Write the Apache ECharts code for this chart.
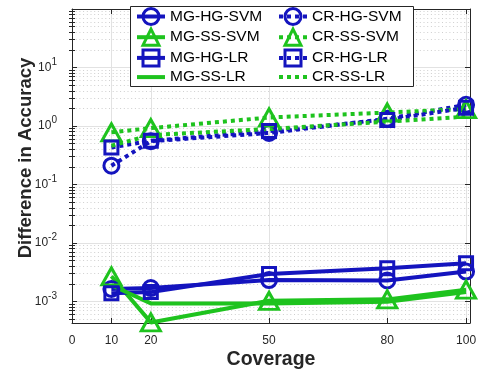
<!DOCTYPE html>
<html>
<head>
<meta charset="utf-8">
<script src="https://cdn.jsdelivr.net/npm/echarts@6/dist/echarts.min.js"></script>
<style>
  html, body { margin: 0; padding: 0; background: #ffffff; }
  #chart { width: 480px; height: 375px; }
</style>
</head>
<body>
<div id="chart"></div>
<script>
// Coverage levels (x) and the accuracy differences per method (log y)
const coverage = [10, 20, 50, 80, 100];

const mgHgSvm = [1.64e-3, 1.70e-3, 2.33e-3, 2.30e-3, 3.25e-3];
const mgSsSvm = [2.70e-3, 4.4e-4, 1.03e-3, 1.09e-3, 1.60e-3];
const mgHgLr  = [1.38e-3, 1.45e-3, 2.95e-3, 3.70e-3, 4.50e-3];
const mgSsLr  = [1.90e-3, 0.93e-3, 0.93e-3, 0.99e-3, 1.45e-3];
const crHgSvm = [0.21, 0.55, 0.76, 1.33, 2.30];
const crSsSvm = [0.78, 0.92, 1.40, 1.70, 1.95];
const crHgLr  = [0.43, 0.56, 0.82, 1.27, 2.05];
const crSsLr  = [0.46, 0.70, 0.89, 1.19, 1.45];

const xTicks = [0, 10, 20, 50, 80, 100];
const yMajorTicks = [1e-3, 1e-2, 1e-1, 1, 10];

const X_MIN = 0, X_MAX = 101;
const Y_MIN = 4.3e-4, Y_MAX = 100;

// minor ticks at 2..9 x 10^k inside the y range
const yMinorTicks = [];
for (let k = -4; k <= 1; k++) {
  for (let m = 2; m <= 9; m++) {
    const v = Number((m * Math.pow(10, k)).toPrecision(3));
    if (v > Y_MIN && v < Y_MAX) yMinorTicks.push(v);
  }
}

const BLUE = '#1414BE';
const GREEN = '#1EC31E';
const AXIS = '#262626';
const FONT = 'Liberation Sans, Arial, Helvetica, sans-serif';
const CLEAR = 'rgba(255,255,255,0)';

function pairs(values) {
  return coverage.map((c, i) => [c, values[i]]);
}

function makeSeries(name, values, color, symbol, dotted) {
  const size = symbol === 'circle' ? 15 : symbol === 'triangle' ? [19, 17] : 13;
  const hasMarker = symbol !== 'none';
  return {
    name: name,
    type: 'line',
    xAxisIndex: 0,
    yAxisIndex: 0,
    data: pairs(values),
    symbol: symbol,
    symbolSize: size,
    showSymbol: hasMarker,
    clip: false,
    lineStyle: {
      color: color,
      width: 4,
      type: dotted ? [4, 4] : 'solid',
      cap: 'butt'
    },
    itemStyle: {
      color: CLEAR,
      borderColor: hasMarker ? color : CLEAR,
      borderWidth: hasMarker ? 3 : 0
    },
    emphasis: { disabled: true }
  };
}

const seriesList = [
  makeSeries('MG-HG-SVM', mgHgSvm, BLUE, 'circle', false),
  makeSeries('MG-SS-SVM', mgSsSvm, GREEN, 'triangle', false),
  makeSeries('MG-HG-LR', mgHgLr, BLUE, 'rect', false),
  makeSeries('MG-SS-LR', mgSsLr, GREEN, 'none', false),
  makeSeries('CR-HG-SVM', crHgSvm, BLUE, 'circle', true),
  makeSeries('CR-SS-SVM', crSsSvm, GREEN, 'triangle', true),
  makeSeries('CR-HG-LR', crHgLr, BLUE, 'rect', true),
  makeSeries('CR-SS-LR', crSsLr, GREEN, 'none', true)
];

const tickLine = { color: AXIS, width: 1 };

function logAxis(extra) {
  return Object.assign({
    type: 'log',
    logBase: 10,
    min: Y_MIN,
    max: Y_MAX,
    gridIndex: 0
  }, extra);
}

// legend entries: line-only series get an invisible marker
function legendItems(names) {
  return names.map(n => {
    const s = seriesList.find(x => x.name === n);
    if (s.symbol === 'none') {
      return { name: n, itemStyle: { color: CLEAR, borderColor: CLEAR, borderWidth: 0 } };
    }
    return { name: n, itemStyle: { borderWidth: 3 } };
  });
}

const legendCommon = {
  orient: 'vertical',
  top: 7,
  padding: 0,
  itemWidth: 28,
  itemHeight: 20,
  itemGap: 1.7,
  z: 20,
  selectedMode: false,
  lineStyle: { width: 4 },
  textStyle: { fontSize: 15.5, color: '#000000', fontFamily: FONT }
};

const option = {
  animation: false,
  backgroundColor: '#ffffff',
  grid: { left: 72, right: 10, top: 9, bottom: 52 },
  graphic: [{
    type: 'rect',
    z: 15,
    shape: { x: 130.5, y: 6.5, width: 283, height: 80 },
    style: { fill: '#ffffff', stroke: AXIS, lineWidth: 1 }
  }],
  legend: [
    Object.assign({ left: 135, data: legendItems(['MG-HG-SVM', 'MG-SS-SVM', 'MG-HG-LR', 'MG-SS-LR']) }, legendCommon),
    Object.assign({ left: 277, data: legendItems(['CR-HG-SVM', 'CR-SS-SVM', 'CR-HG-LR', 'CR-SS-LR']) }, legendCommon)
  ],
  xAxis: [
    {
      type: 'value',
      min: X_MIN,
      max: X_MAX,
      position: 'bottom',
      axisLine: { show: true, onZero: false, lineStyle: tickLine },
      axisTick: { show: true, inside: true, length: 5, customValues: xTicks, lineStyle: tickLine },
      axisLabel: { customValues: xTicks, margin: 12, fontSize: 12, color: AXIS, fontFamily: FONT },
      splitLine: { show: true, lineStyle: { color: '#e2e2e2', width: 1 } },
      name: 'Coverage',
      nameLocation: 'middle',
      nameGap: 27,
      nameMoveOverlap: false,
      nameTextStyle: { fontSize: 19.5, fontWeight: 'bold', color: AXIS, fontFamily: FONT }
    },
    {
      type: 'value',
      min: X_MIN,
      max: X_MAX,
      position: 'top',
      axisLine: { show: true, onZero: false, lineStyle: tickLine },
      axisTick: { show: true, inside: true, length: 5, customValues: xTicks, lineStyle: tickLine },
      axisLabel: { show: false },
      splitLine: { show: false }
    }
  ],
  yAxis: [
    logAxis({
      position: 'left',
      axisLine: { show: true, onZero: false, lineStyle: tickLine },
      axisTick: { show: true, inside: true, length: 5, customValues: yMajorTicks, lineStyle: tickLine },
      axisLabel: {
        customValues: yMajorTicks,
        margin: 15,
        fontSize: 12,
        color: AXIS,
        fontFamily: FONT,
        formatter: function (v) {
          const e = Math.round(Math.log10(v));
          return '10{s|' + e + '}';
        },
        rich: {
          s: { fontSize: 10, color: AXIS, fontFamily: FONT, padding: [0, 0, 11, 0] }
        }
      },
      splitLine: { show: true, lineStyle: { color: '#e2e2e2', width: 1 } },
      name: 'Difference in Accuracy',
      nameLocation: 'middle',
      nameGap: 37,
      nameMoveOverlap: false,
      nameTextStyle: { fontSize: 18.5, fontWeight: 'bold', color: AXIS, fontFamily: FONT, padding: [0, 0, 0, 16] }
    }),
    logAxis({
      position: 'left',
      axisLine: { show: false },
      axisTick: { show: true, inside: true, length: 3, customValues: yMinorTicks, lineStyle: tickLine },
      axisLabel: { show: false },
      splitLine: { show: true, lineStyle: { color: '#cfcfcf', width: 1, type: [1, 2.7] } }
    }),
    logAxis({
      position: 'right',
      axisLine: { show: true, onZero: false, lineStyle: tickLine },
      axisTick: { show: true, inside: true, length: 5, customValues: yMajorTicks, lineStyle: tickLine },
      axisLabel: { show: false },
      splitLine: { show: false }
    }),
    logAxis({
      position: 'right',
      axisLine: { show: false },
      axisTick: { show: true, inside: true, length: 3, customValues: yMinorTicks, lineStyle: tickLine },
      axisLabel: { show: false },
      splitLine: { show: false }
    })
  ],
  series: seriesList
};

const chart = echarts.init(document.getElementById('chart'), null, { renderer: 'canvas' });
chart.setOption(option);
</script>
</body>
</html>
